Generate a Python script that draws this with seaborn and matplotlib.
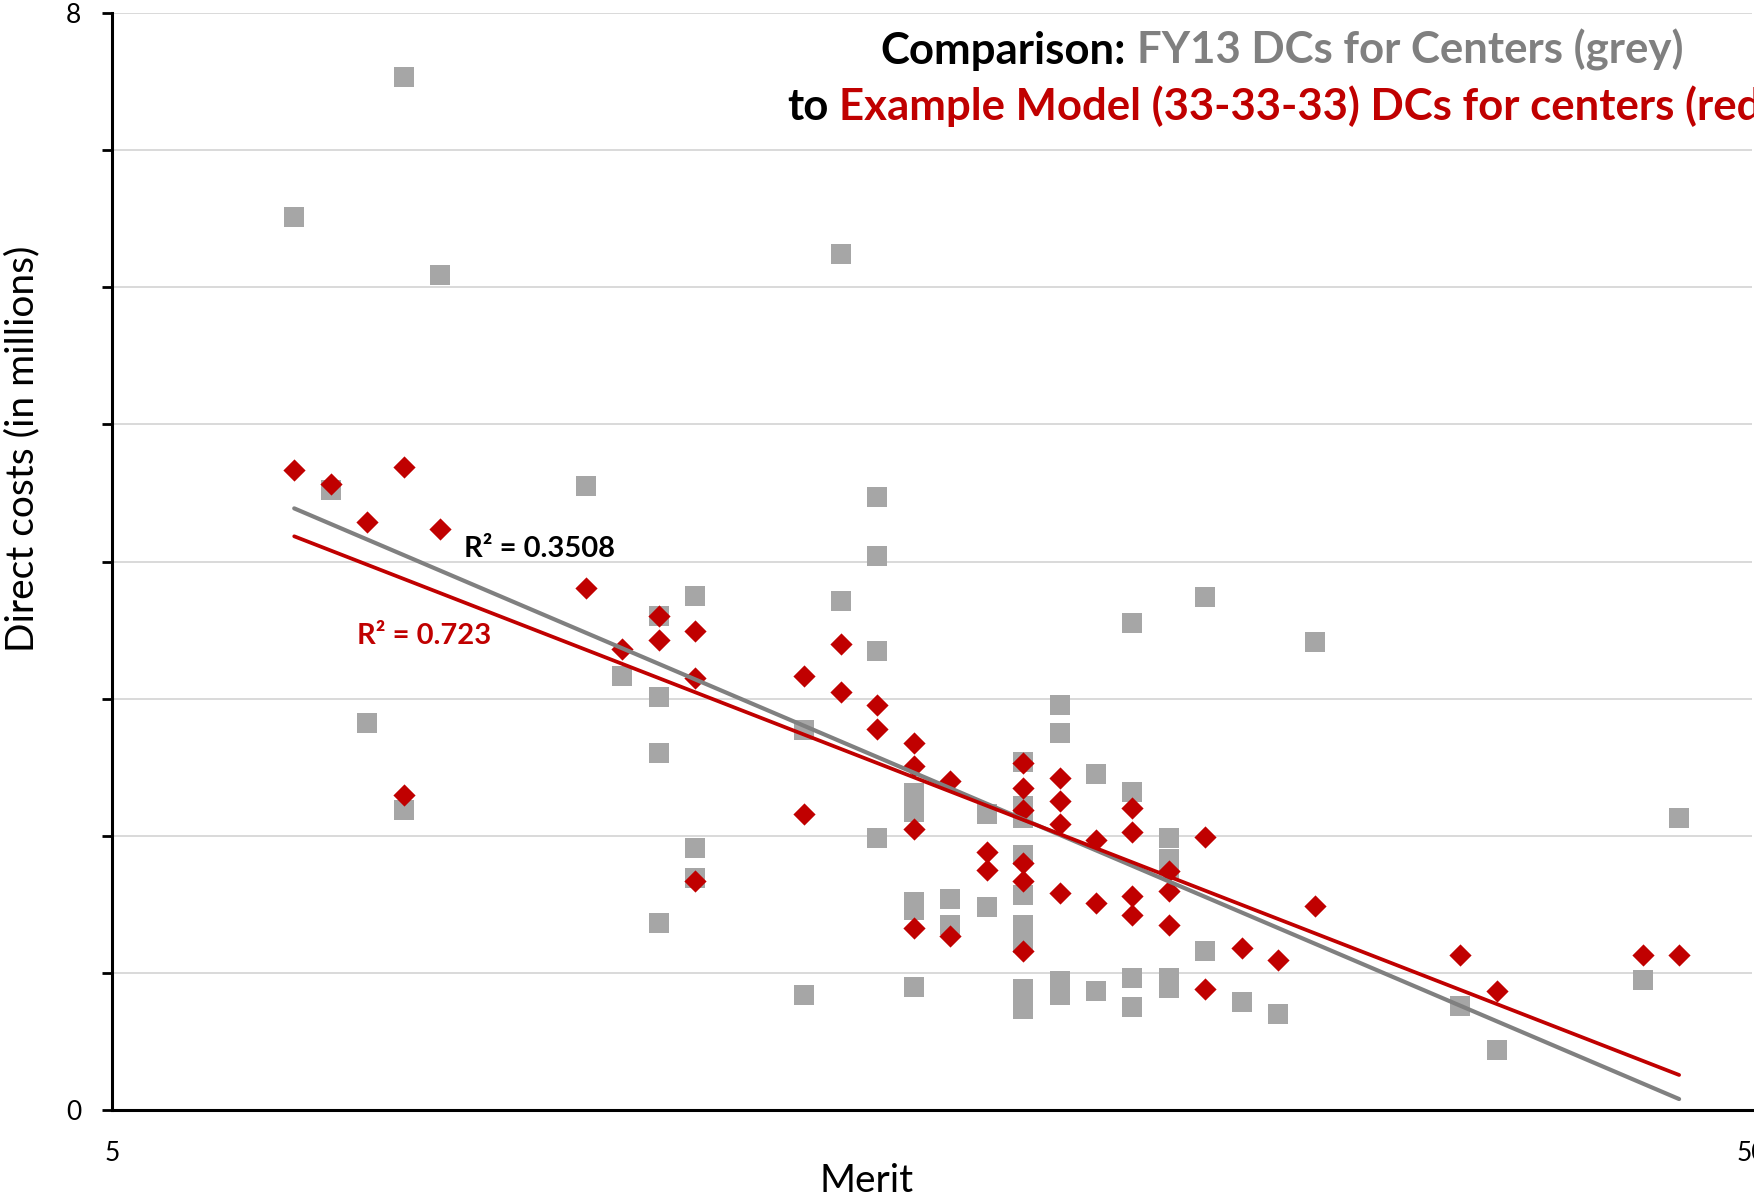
import matplotlib
matplotlib.use("Agg")
import matplotlib.pyplot as plt
import seaborn as sns

# FY13 direct costs for centers (grey squares)
fy13_merit = [10, 11, 12, 13, 13, 14, 18, 19,
              20, 20, 20, 20, 21, 21, 21, 24, 24, 25, 25,
              26, 26, 26, 26, 27, 27, 27, 27, 27, 28, 28, 29, 29,
              30, 30, 30, 30, 30, 30, 30, 30, 30,
              31, 31, 31, 31, 32, 32, 33, 33, 33, 33,
              34, 34, 34, 34, 34, 35, 35, 36, 37, 38, 42, 43, 47, 48]
fy13_dc = [6.51, 4.52, 2.82, 7.53, 2.19, 6.09, 4.55, 3.165,
           3.60, 3.01, 2.605, 1.365, 3.745, 1.91, 1.695, 2.77, 0.84, 6.24, 3.71,
           4.47, 4.04, 3.35, 1.98, 2.31, 2.17, 1.52, 1.46, 0.90, 1.54, 1.35, 2.16, 1.48,
           2.54, 2.22, 2.13, 1.86, 1.57, 1.35, 1.22, 0.88, 0.74,
           2.95, 2.75, 0.94, 0.84, 2.45, 0.87, 3.55, 2.32, 0.96, 0.75,
           1.985, 1.83, 1.76, 0.96, 0.89, 3.74, 1.16, 0.79, 0.70, 3.41, 0.76, 0.44, 0.95, 2.13]

# Example model (33-33-33) direct costs for centers (red diamonds)
model_merit = [10, 11, 12, 13, 13, 14, 18, 19, 20, 20, 21, 21, 21,
               24, 24, 25, 25, 26, 26, 27, 27, 27, 27, 28, 28, 29, 29,
               30, 30, 30, 30, 30, 30, 31, 31, 31, 31, 32, 32,
               33, 33, 33, 33, 34, 34, 34, 35, 35, 36, 37, 38, 42, 43, 47, 48]
model_dc = [4.67, 4.565, 4.285, 4.686, 2.30, 4.236, 3.81, 3.36, 3.60, 3.43, 3.49, 3.15, 1.67,
            3.165, 2.16, 3.40, 3.05, 2.95, 2.78, 2.68, 2.51, 2.05, 1.33, 2.40, 1.27, 1.88, 1.75,
            2.53, 2.35, 2.19, 1.80, 1.67, 1.16, 2.42, 2.25, 2.085, 1.585, 1.97, 1.51,
            2.20, 2.03, 1.56, 1.42, 1.74, 1.60, 1.35, 1.99, 0.88, 1.18, 1.095, 1.49, 1.13, 0.865, 1.13, 1.13]

y_ticks = list(range(9))
y_tick_labels = ["0", "", "", "", "", "", "", "", "8"]
x_ticks = [5, 50]

GREY_MARK = "#A6A6A6"
GREY_LINE = "#808080"
RED = "#C00000"

sns.set_theme(style="white")
plt.rcParams["font.family"] = ["Lato", "DejaVu Sans"]

W, H = 1754, 1199
fig = plt.figure(figsize=(W / 100, H / 100), dpi=100)
ax = fig.add_axes([112 / W, 89 / H, 1640 / W, 1097 / H])

sns.scatterplot(x=fy13_merit, y=fy13_dc, marker="s", s=210, color=GREY_MARK,
                linewidth=0, ax=ax, zorder=3)
sns.scatterplot(x=model_merit, y=model_dc, marker="D", s=128, color=RED,
                linewidth=0, ax=ax, zorder=4)
sns.regplot(x=fy13_merit, y=fy13_dc, scatter=False, ci=None, ax=ax,
            line_kws=dict(color=GREY_LINE, lw=3.0, zorder=5, solid_capstyle="round"))
sns.regplot(x=model_merit, y=model_dc, scatter=False, ci=None, ax=ax,
            line_kws=dict(color=RED, lw=2.7, zorder=6, solid_capstyle="round"))

ax.set_xlim(5, 50)
ax.set_ylim(0, 8)
ax.set_xticks(x_ticks)
ax.set_xticklabels([str(v) for v in x_ticks])
ax.set_yticks(y_ticks)
ax.set_yticklabels(y_tick_labels)
ax.tick_params(axis="x", length=0, pad=22, labelsize=19, colors="black")
ax.tick_params(axis="y", length=7, width=2, pad=15, labelsize=19, colors="black", left=True)

ax.yaxis.grid(True, color="#D0D0D0", lw=1.1)
ax.xaxis.grid(False)
ax.set_axisbelow(True)
for side in ["top", "right"]:
    ax.spines[side].set_visible(False)
for side in ["left", "bottom"]:
    ax.spines[side].set_color("black")
    ax.spines[side].set_linewidth(2.2)
    ax.spines[side].set_zorder(7)

ax.set_xlabel("Merit", fontsize=28, color="black")
ax.xaxis.set_label_coords(0.46, -0.048)
ax.set_ylabel("Direct costs (in millions)", fontsize=28, color="black")
ax.yaxis.set_label_coords(-0.044, 0.603)

ax.text(14.66, 4.09, "R² = 0.3508", fontsize=21, fontweight="bold",
        color="black", ha="left", va="center", zorder=8)
ax.text(11.72, 3.46, "R² = 0.723", fontsize=21, fontweight="bold",
        color=RED, ha="left", va="center", zorder=8)

# two-line, two-colour title (runs off the right edge as in the original)
tsize = 31.5
tkw = dict(fontsize=tsize, fontweight="bold", va="baseline", ha="left")
t = fig.text(880 / W, 1 - 64 / H, "Comparison:", color="black", **tkw)
ax.annotate("FY13 DCs for Centers (grey)", xy=(1, 0), xycoords=t,
            xytext=(8, 0), textcoords="offset points", color=GREY_LINE,
            fontsize=tsize, fontweight="bold", va="bottom", ha="left",
            annotation_clip=False)
t2 = fig.text(787 / W, 1 - 120 / H, "to", color="black", **tkw)
ax.annotate("Example Model (33-33-33) DCs for centers (red)", xy=(1, 0), xycoords=t2,
            xytext=(8, 0), textcoords="offset points", color=RED,
            fontsize=tsize, fontweight="bold", va="bottom", ha="left",
            annotation_clip=False)

fig.savefig("out.png", dpi=100)
